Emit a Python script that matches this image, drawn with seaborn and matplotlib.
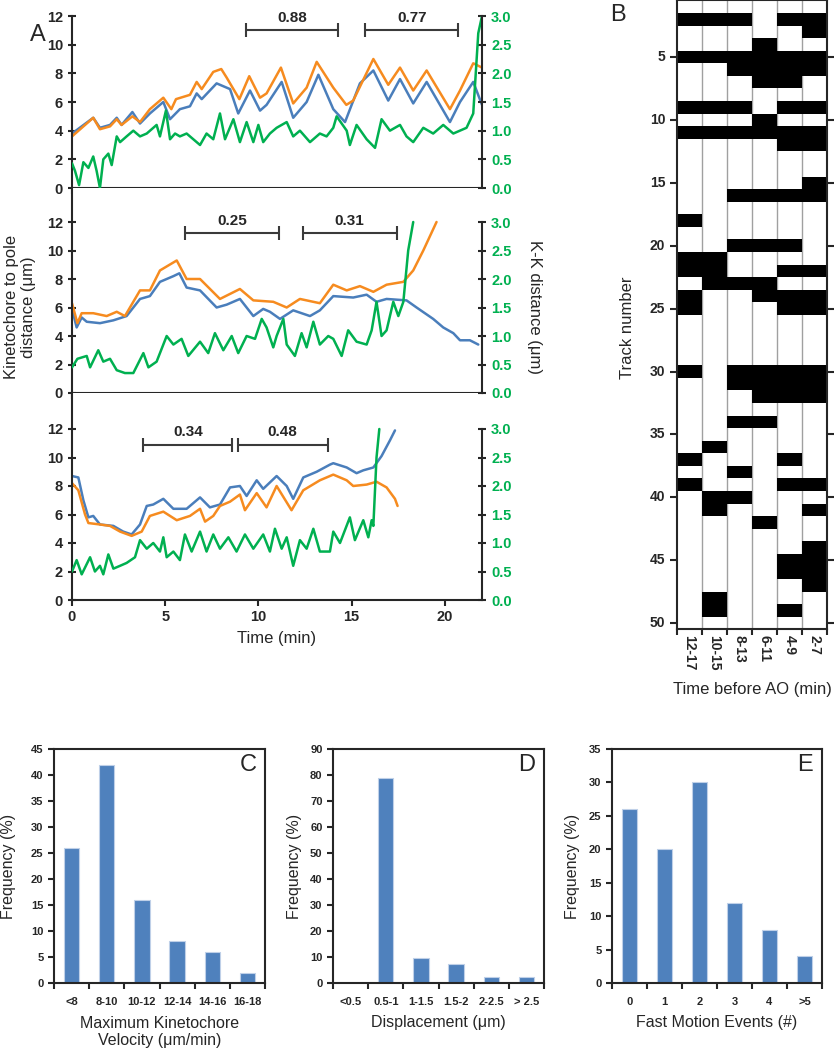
import numpy as np
import pandas as pd
import matplotlib
matplotlib.use("Agg")
import matplotlib.pyplot as plt
from matplotlib.colors import ListedColormap
import seaborn as sns

# ---------------- data ----------------
# panel A, top trace
a1_kt1_t = [0, 1.14, 1.5, 2.04, 2.4, 2.66, 3.24, 3.65, 4.18, 4.9, 5.26, 5.79, 6.33, 6.69, 6.96, 7.76,
            8.48, 8.92, 9.55, 10.09, 10.44, 11.25, 11.87, 12.59, 13.22, 14.02, 14.65, 15.45, 16.17,
            16.97, 17.6, 18.31, 19.03, 20.28, 20.82, 21.53, 22.0]
a1_kt1 = [3.8, 4.9, 4.2, 4.4, 4.9, 4.4, 5.3, 4.5, 5.2, 6.0, 4.8, 5.5, 5.7, 6.6, 6.2, 7.3,
          6.9, 5.2, 6.8, 5.4, 5.8, 7.4, 4.9, 6.0, 7.9, 5.5, 4.6, 7.3, 8.2,
          6.1, 7.6, 5.9, 7.4, 4.6, 6.0, 7.4, 5.8]
a1_kt2_t = [0, 1.14, 1.5, 2.04, 2.4, 2.66, 3.24, 3.65, 4.18, 4.9, 5.33, 5.58, 6.33, 6.69, 6.96, 7.58,
            8.01, 8.3, 8.98, 9.51, 10.09, 10.44, 11.21, 11.87, 12.59, 13.13, 14.02, 14.72, 15.09,
            16.17, 16.97, 17.6, 18.31, 19.03, 20.28, 20.82, 21.53, 22.0]
a1_kt2 = [3.6, 4.9, 4.1, 4.3, 4.8, 4.4, 5.0, 4.6, 5.5, 6.3, 5.5, 6.2, 6.5, 7.4, 6.9, 8.1,
          8.3, 7.7, 6.2, 7.8, 6.3, 6.6, 8.4, 5.9, 7.0, 8.8, 7.0, 5.8, 6.1,
          9.0, 7.2, 8.4, 6.8, 8.2, 5.5, 6.8, 8.7, 8.4]
a1_kk_t = [0, 0.16, 0.38, 0.61, 0.88, 1.14, 1.32, 1.5, 1.68, 1.95, 2.13, 2.4, 2.58, 2.93, 3.29, 3.65,
           4.01, 4.54, 4.72, 5.04, 5.26, 5.53, 5.79, 6.15, 6.51, 6.87, 7.22, 7.58, 7.94, 8.21, 8.66,
           9.01, 9.37, 9.73, 10.0, 10.26, 10.62, 10.98, 11.52, 11.87, 12.23, 12.77, 13.3, 13.66,
           14.02, 14.2, 14.74, 14.91, 15.27, 15.81, 16.26, 16.61, 17.06, 17.6, 17.95, 18.31, 18.85,
           19.38, 19.92, 20.46, 21.17, 21.53, 21.8, 22.0]
a1_kk = [0.43, 0.3, 0.05, 0.45, 0.35, 0.55, 0.3, 0.0, 0.5, 0.6, 0.4, 0.9, 0.8, 0.9, 1.0, 0.9,
         0.95, 1.1, 0.9, 1.35, 0.85, 0.95, 0.9, 0.95, 0.85, 0.75, 0.95, 0.85, 1.3, 0.85, 1.2,
         0.8, 1.15, 0.8, 1.1, 0.8, 0.95, 1.05, 1.15, 0.9, 1.0, 0.8, 0.95, 0.9,
         1.05, 1.25, 1.0, 0.75, 1.1, 0.85, 0.7, 1.2, 1.0, 1.1, 0.9, 0.8, 1.05,
         0.95, 1.1, 0.95, 1.05, 1.3, 2.7, 3.0]
a1_brackets = [(9.32, 14.29, 11.0, "0.88"), (15.72, 20.73, 11.0, "0.77")]

# panel A, middle trace
a2_kt1_t = [0, 0.25, 0.52, 0.79, 1.5, 2.22, 2.93, 3.65, 4.18, 4.72, 5.44, 5.76, 6.15, 6.87, 7.76,
            8.3, 9.01, 9.73, 10.26, 10.62, 11.16, 11.87, 12.77, 13.3, 14.02, 15.09, 15.81, 16.34,
            16.88, 17.95, 18.49, 19.38, 19.92, 20.46, 20.82, 21.35, 21.8]
a2_kt1 = [5.9, 4.6, 5.3, 5.0, 4.9, 5.1, 5.4, 6.6, 6.8, 7.8, 8.2, 8.4, 7.4, 7.2, 6.0,
          6.2, 6.6, 5.4, 5.9, 5.7, 5.2, 5.8, 5.4, 5.8, 6.8, 6.7, 6.9, 6.4,
          6.6, 6.5, 6.0, 5.2, 4.6, 4.2, 3.7, 3.7, 3.4]
a2_kt2_t = [0, 0.29, 0.52, 1.14, 1.86, 2.4, 2.84, 3.65, 4.18, 4.72, 5.62, 6.15, 6.87, 7.94, 9.01,
            9.73, 10.8, 11.52, 12.23, 13.3, 14.02, 14.74, 15.45, 16.17, 16.88, 17.78, 18.31,
            18.85, 19.56]
a2_kt2 = [6.3, 4.9, 5.6, 5.6, 5.4, 5.7, 5.4, 7.2, 7.2, 8.6, 9.3, 8.0, 8.0, 6.6, 7.3,
          6.5, 6.4, 6.0, 6.6, 6.3, 7.6, 7.2, 7.5, 7.1, 7.6, 7.8, 8.6,
          10.0, 12.0]
a2_kk_t = [0, 0.29, 0.79, 0.97, 1.41, 1.68, 2.04, 2.4, 2.84, 3.29, 3.83, 4.1, 4.54, 5.08, 5.44,
           5.88, 6.24, 6.87, 7.31, 7.67, 8.12, 8.57, 8.92, 9.37, 9.82, 10.18, 10.44, 10.8, 10.98,
           11.34, 11.52, 11.96, 12.32, 12.59, 12.95, 13.3, 13.75, 14.02, 14.47, 14.82, 15.27,
           15.81, 16.08, 16.34, 16.61, 16.88, 17.24, 17.51, 17.78, 18.04, 18.31]
a2_kk = [0.45, 0.6, 0.65, 0.45, 0.75, 0.55, 0.6, 0.4, 0.35, 0.35, 0.7, 0.45, 0.55, 1.0, 0.85,
         0.95, 0.65, 0.9, 0.7, 1.05, 0.75, 1.0, 0.7, 1.0, 0.95, 1.3, 1.15, 0.8, 1.0,
         1.3, 0.85, 0.65, 1.05, 0.8, 1.25, 0.85, 1.0, 0.95, 0.65, 1.1, 0.9,
         0.85, 1.1, 1.6, 1.0, 1.1, 1.6, 1.35, 1.6, 2.5, 3.0]
a2_brackets = [(6.06, 11.12, 11.2, "0.25"), (12.37, 17.42, 11.2, "0.31")]

# panel A, bottom trace
a3_kt1_t = [0, 0.34, 0.61, 0.88, 1.14, 1.5, 2.22, 2.75, 3.2, 3.65, 4.01, 4.36, 4.9, 5.44, 6.15,
            6.87, 7.4, 7.94, 8.48, 9.01, 9.37, 9.91, 10.26, 10.98, 11.52, 11.87, 12.41, 13.13,
            13.84, 14.02, 14.74, 15.27, 15.63, 16.17, 16.61, 17.06, 17.33]
a3_kt1 = [8.7, 8.6, 7.0, 5.8, 5.9, 5.3, 5.2, 4.8, 4.6, 5.3, 6.6, 6.7, 7.1, 6.4, 6.4,
          7.2, 6.5, 6.7, 7.9, 8.0, 7.3, 8.4, 7.8, 8.7, 8.0, 7.1, 8.6, 9.0,
          9.5, 9.6, 9.3, 8.9, 9.1, 9.3, 10.1, 11.2, 11.9]
a3_kt2_t = [0, 0.34, 0.7, 0.88, 1.5, 2.04, 2.58, 3.2, 3.74, 4.18, 4.9, 5.62, 6.33, 6.87, 7.14,
            7.58, 7.94, 8.48, 9.01, 9.28, 9.91, 10.44, 10.98, 11.78, 12.41, 13.3, 14.02, 14.74,
            15.09, 15.81, 16.34, 16.88, 17.33, 17.47]
a3_kt2 = [8.2, 7.7, 6.0, 5.4, 5.3, 5.2, 4.8, 4.5, 4.8, 5.9, 6.2, 5.6, 5.9, 6.4, 5.5,
          5.9, 6.6, 6.9, 7.4, 6.3, 7.5, 6.5, 8.0, 6.3, 7.7, 8.4, 8.8, 8.4,
          8.0, 8.1, 8.3, 7.9, 7.1, 6.6]
a3_kk_t = [0, 0.25, 0.52, 0.97, 1.23, 1.5, 1.68, 1.95, 2.22, 2.58, 2.93, 3.38, 3.65, 4.01, 4.36,
           4.72, 4.9, 5.08, 5.44, 5.79, 6.06, 6.42, 6.87, 7.22, 7.58, 7.94, 8.39, 8.83, 9.28,
           9.73, 10.26, 10.62, 10.89, 11.25, 11.52, 11.87, 12.23, 12.59, 12.95, 13.3, 13.84,
           14.02, 14.38, 14.91, 15.18, 15.63, 15.9, 16.08, 16.17, 16.34, 16.49]
a3_kk = [0.5, 0.7, 0.45, 0.75, 0.5, 0.6, 0.45, 0.8, 0.55, 0.6, 0.65, 0.75, 1.05, 0.9, 1.0,
         0.85, 1.1, 0.75, 0.85, 0.7, 1.15, 0.85, 1.2, 0.85, 1.15, 0.9, 1.1, 0.85, 1.15,
         0.9, 1.15, 0.85, 1.25, 0.9, 1.1, 0.6, 1.05, 0.9, 1.25, 0.85, 0.85,
         1.2, 1.0, 1.45, 1.05, 1.4, 1.1, 1.4, 1.3, 2.5, 3.0]
a3_brackets = [(3.83, 8.6, 10.9, "0.34"), (8.89, 13.72, 10.9, "0.48")]

# panel B: fast motion per track (1 = event) in each time window
b_windows = ["12-17", "10-15", "8-13", "6-11", "4-9", "2-7"]
b_tracks = [
    "000000", "111011", "000001", "000100", "111111", "001111", "000110", "000000", "111011", "000100",
    "111111", "000011", "000000", "000000", "000001", "001111", "000000", "100000", "000000", "001110",
    "110000", "110011", "011100", "100111", "100011", "000000", "000000", "000000", "000000", "101111",
    "001111", "000111", "000000", "001100", "000000", "010000", "100010", "001000", "100011", "011000",
    "010001", "000100", "000000", "000001", "000011", "000011", "000001", "010000", "010010", "000000",
]

# panels C-E
c_bins = ["<8", "8-10", "10-12", "12-14", "14-16", "16-18"]
c_freq = [26, 42, 16, 8, 6, 2]
d_bins = ["<0.5", "0.5-1", "1-1.5", "1.5-2", "2-2.5", "> 2.5"]
d_freq = [0, 79, 9.5, 7.2, 2.2, 2.2]
e_bins = ["0", "1", "2", "3", "4", ">5"]
e_freq = [26, 20, 30, 12, 8, 4]

BLUE = "#4A7EBB"
ORANGE = "#F68B1F"
GREEN = "#00B050"
BAR = "#4F81BD"

sns.set_style("ticks")
plt.rcParams["font.family"] = ["Liberation Sans", "DejaVu Sans"]
plt.rcParams["axes.linewidth"] = 1.5

W, H = 834, 1050
fig = plt.figure(figsize=(W / 100, H / 100), dpi=100)


def px_axes(l, t, r, b):
    return fig.add_axes([l / W, 1 - b / H, (r - l) / W, (b - t) / H])


def trace_panel(ax, kt1_t, kt1, kt2_t, kt2, kk_t, kk, brackets, scale, show_x):
    sns.lineplot(x=kt1_t, y=kt1, ax=ax, color=BLUE, lw=1.8, errorbar=None)
    sns.lineplot(x=kt2_t, y=kt2, ax=ax, color=ORANGE, lw=1.8, errorbar=None)
    for s, e, lvl, lab in brackets:
        ax.errorbar(x=(s + e) / 2, y=lvl, xerr=(e - s) / 2, fmt="none", color="#3A3A3A",
                    elinewidth=1.5, capsize=5, capthick=1.5)
        ax.annotate(lab, xy=((s + e) / 2, lvl), xytext=(0, 4), textcoords="offset points",
                    ha="center", va="bottom", fontsize=11, fontweight="bold")
    ax.set_xlim(0, 22)
    ax.set_ylim(0, 12 * scale)
    ax.set_yticks(range(0, 13, 2))
    ax.set_xticks([0, 5, 10, 15, 20])
    ax.tick_params(axis="y", direction="inout", length=6, width=1.5, labelsize=10.5)
    ax.tick_params(axis="x", direction="out", length=4, width=1.5, labelsize=10.5,
                   labelbottom=show_x)
    for lab in ax.get_yticklabels() + ax.get_xticklabels():
        lab.set_fontweight("bold")
    ax.spines["top"].set_visible(False)
    ax.spines["right"].set_visible(False)
    ax.set_ylabel("")

    tw = ax.twinx()
    sns.lineplot(x=kk_t, y=kk, ax=tw, color=GREEN, lw=1.8, errorbar=None)
    tw.set_ylim(0, 3 * scale)
    tw.set_yticks(np.arange(0, 3.01, 0.5))
    tw.set_yticklabels([f"{v:.1f}" for v in np.arange(0, 3.01, 0.5)], color=GREEN,
                       fontweight="bold")
    tw.tick_params(axis="y", direction="inout", length=6, width=1.5, labelsize=10.5)
    for side in ["top", "left", "bottom"]:
        tw.spines[side].set_visible(False)
    tw.spines["right"].set_bounds(0, 3)
    tw.set_ylabel("")
    return tw


ax1 = px_axes(72, 16, 482, 188)
ax2 = px_axes(72, 188, 482, 393)
ax3 = px_axes(72, 393, 482, 600)
trace_panel(ax1, a1_kt1_t, a1_kt1, a1_kt2_t, a1_kt2, a1_kk_t, a1_kk, a1_brackets, 1.0, False)
tw2 = trace_panel(ax2, a2_kt1_t, a2_kt1, a2_kt2_t, a2_kt2, a2_kk_t, a2_kk, a2_brackets,
                  205 / 171, False)
trace_panel(ax3, a3_kt1_t, a3_kt1, a3_kt2_t, a3_kt2, a3_kk_t, a3_kk, a3_brackets, 207 / 171, True)

ax2.set_ylabel("Kinetochore to pole\ndistance (μm)", fontsize=12, multialignment="center")
ax2.yaxis.set_label_coords(-52 / 410, 86 / 205)
ax2.yaxis.label.set_va("center")
tw2.set_ylabel("K-K distance (μm)", fontsize=12, rotation=270)
tw2.yaxis.set_label_coords(463 / 410, 86 / 205)
tw2.yaxis.label.set_va("center")
tw2.yaxis.label.set_ha("center")
ax3.set_xlabel("Time (min)", fontsize=12, labelpad=5)
fig.text(38 / W, 1 - 35 / H, "A", fontsize=17, ha="center", va="center")

# ---------------- panel B ----------------
axb = px_axes(677, 0.4, 827, 629.4)
b_df = pd.DataFrame([[int(c) for c in row] for row in b_tracks], columns=b_windows,
                    index=range(1, len(b_tracks) + 1))
sns.heatmap(b_df, mask=b_df == 0, cmap=ListedColormap(["black"]), vmin=0, vmax=1,
            cbar=False, ax=axb)
axb.set_facecolor("white")
for x in range(1, len(b_windows)):
    axb.axvline(x, color="#A0A0A0", lw=1.0, zorder=0.5)
for s in axb.spines.values():
    s.set_visible(True)
    s.set_linewidth(1.5)
axb.set_yticks(np.arange(4.5, 50, 5))
axb.set_yticklabels([str(v) for v in range(5, 51, 5)], rotation=0, fontweight="bold")
axb.set_xticks(np.arange(0, len(b_windows) + 1))
axb.set_xticklabels([])
axb.set_xticks(np.arange(len(b_windows)) + 0.5, minor=True)
axb.set_xticklabels(b_windows, minor=True, rotation=270, fontweight="bold", fontsize=10)
axb.tick_params(axis="y", left=True, right=True, direction="out", length=5, width=1.5,
                labelsize=10)
axb.tick_params(axis="x", which="major", bottom=True, direction="out", length=4, width=1.5)
axb.tick_params(axis="x", which="minor", length=0, pad=4)
axb.set_ylabel("Track number", fontsize=12)
axb.yaxis.set_label_coords(-49 / 150, 0.48)
axb.yaxis.label.set_va("center")
axb.set_xlabel("Time before AO (min)", fontsize=12)
axb.xaxis.set_label_coords(0.5, -53 / 629)
fig.text(618 / W, 1 - 15 / H, "B", fontsize=17, ha="center", va="center")


# ---------------- panels C-E ----------------
def bar_panel(ax, bins, freq, ymax, ystep, xlabel, letter, ylab_x, xlab_y):
    sns.barplot(x=bins, y=freq, ax=ax, color=BAR, saturation=1, width=0.44,
                edgecolor="#BFD0E8", linewidth=0.8)
    ax.set_ylim(0, ymax)
    ax.set_xlim(-0.5, len(bins) - 0.5)
    ax.set_yticks(np.arange(0, ymax + 0.1, ystep))
    ax.set_yticklabels([str(int(v)) for v in np.arange(0, ymax + 0.1, ystep)], fontweight="bold")
    ax.set_xticks(np.arange(-0.5, len(bins), 1))
    ax.set_xticklabels([])
    ax.set_xticks(np.arange(len(bins)), minor=True)
    ax.set_xticklabels(bins, minor=True, fontweight="bold", fontsize=8)
    ax.tick_params(axis="y", direction="out", length=4, width=1.5, labelsize=8)
    ax.tick_params(axis="x", which="major", direction="out", length=4, width=1.5)
    ax.tick_params(axis="x", which="minor", length=0, pad=10)
    for s in ax.spines.values():
        s.set_visible(True)
        s.set_linewidth(1.5)
    ax.tick_params(top=False, right=False)
    ax.set_ylabel("Frequency (%)", fontsize=11.5)
    ax.yaxis.set_label_coords(ylab_x, 0.5)
    ax.yaxis.label.set_va("center")
    ax.set_xlabel(xlabel, fontsize=11.5, linespacing=1.1)
    ax.xaxis.set_label_coords(0.5, xlab_y)
    ax.xaxis.label.set_va("center")
    ax.text(0.92, 0.93, letter, transform=ax.transAxes, fontsize=17, ha="center", va="center")


axc = px_axes(54, 749, 265, 983)
axd = px_axes(333, 749, 544, 983)
axe = px_axes(612, 749, 822, 983)
bar_panel(axc, c_bins, c_freq, 45, 5, "Maximum Kinetochore\nVelocity (μm/min)", "C",
          -45 / 211, -49 / 234)
bar_panel(axd, d_bins, d_freq, 90, 10, "Displacement (μm)", "D", -38 / 211, -40 / 234)
bar_panel(axe, e_bins, e_freq, 35, 5, "Fast Motion Events (#)", "E", -40 / 210, -39 / 234)

fig.savefig("out.png", dpi=100)
